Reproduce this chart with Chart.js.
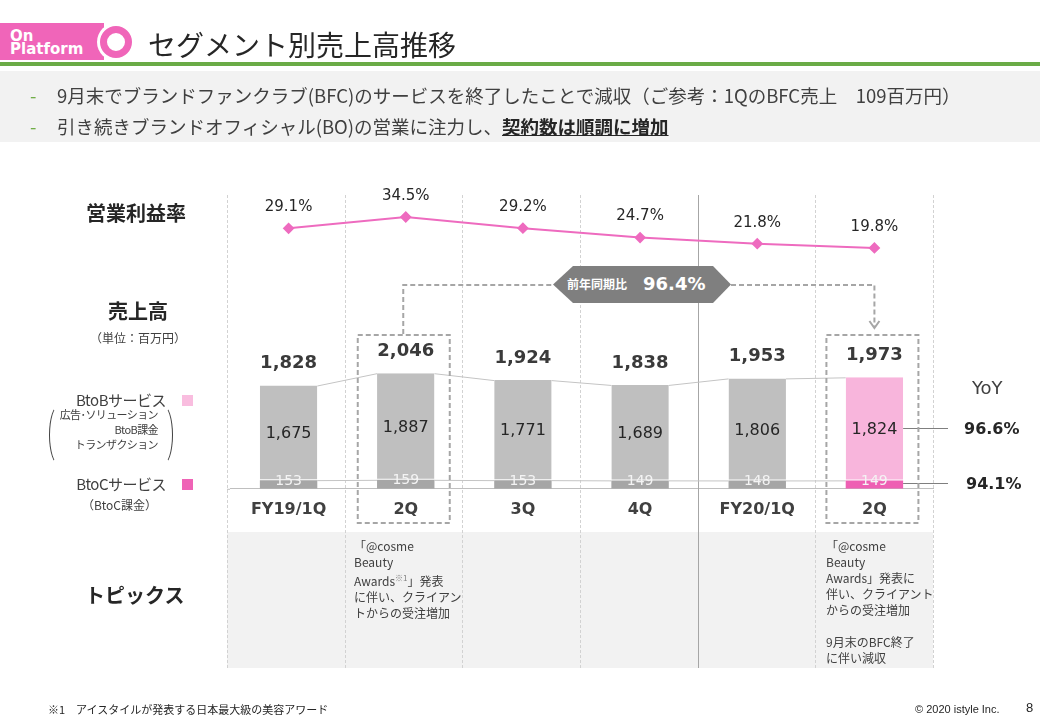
<!DOCTYPE html>
<html lang="ja">
<head>
<meta charset="utf-8">
<title>セグメント別売上高推移</title>
<script src="https://cdn.jsdelivr.net/npm/chart.js@4.4.1/dist/chart.umd.min.js"></script>
<style>
  html, body { margin: 0; padding: 0; background: #fff; }
  body { width: 1040px; height: 720px; position: relative; overflow: hidden;
         font-family: "Noto Sans CJK JP", sans-serif; color: #404040; }
  .abs { position: absolute; white-space: nowrap; z-index: 2; }
  .num { font-family: "DejaVu Sans", sans-serif; }
  #chart { position: absolute; left: 0; top: 0; z-index: 1; }

  /* header */
  #tag { position: absolute; left: 0; top: 23px; width: 104px; height: 37px; background: #f065b9; }
  #tag div { position: absolute; left: 10px; color: #fff; font: bold 15px/15px "DejaVu Sans", sans-serif; }
  #ring-out { position: absolute; left: 97px; top: 23px; width: 38px; height: 38px; border-radius: 50%; background: #fff; }
  #ring { position: absolute; left: 100px; top: 26px; width: 18px; height: 18px; border-radius: 50%;
          border: 7px solid #f065b9; background: #fff; }
  #title { left: 148px; top: 25px; font-size: 28px; line-height: 38px; color: #262626; }
  #green { position: absolute; left: 0; top: 62px; width: 1040px; height: 4px; background: #6aab46; }
  #band { position: absolute; left: 0; top: 71px; width: 1040px; height: 71px; background: #f2f2f2; }
  .bul { left: 30px; color: #70ad47; font-size: 18.5px; line-height: 24px; }
  .btx { left: 57px; font-size: 18.5px; line-height: 24px; color: #404040; }
  .btx b { text-decoration: underline; color: #262626; }

  /* left labels */
  .hd { font-weight: bold; font-size: 20px; line-height: 24px; color: #262626; }
  .sm { font-size: 12px; line-height: 16px; }
  .sq { position: absolute; width: 11px; height: 11px; z-index: 2; }
  .par { position: absolute; width: 18px; height: 58px; border-radius: 50%; border: 1px solid transparent; z-index: 2; }

  #topicbg { position: absolute; left: 227px; top: 532px; width: 706px; height: 136px; background: #f2f2f2; z-index: 0; }
  .topic { font-size: 12px; line-height: 16px; color: #404040; }
  .topic sup { font-size: 8px; color: #808080; vertical-align: 5px; }

  #yoylabel { position: absolute; left: 553px; top: 266px; width: 178px; height: 37px; background: #7f7f7f; z-index: 2;
              clip-path: polygon(0 50%, 20px 0, 160px 0, 178px 50%, 160px 100%, 20px 100%);
              color: #fff; font-weight: bold; }
</style>
</head>
<body>

<div id="tag"><div style="top:6px">On</div><div style="top:19px">Platform</div></div>
<div id="ring-out"></div>
<div id="ring"></div>
<div class="abs" id="title">セグメント別売上高推移</div>
<div id="green"></div>
<div id="band"></div>
<div class="abs bul" style="top:83px">-</div>
<div class="abs btx" style="top:83px">9月末でブランドファンクラブ(BFC)のサービスを終了したことで減収（ご参考：1QのBFC売上　109百万円）</div>
<div class="abs bul" style="top:114px">-</div>
<div class="abs btx" style="top:114px">引き続きブランドオフィシャル(BO)の営業に注力し、<b>契約数は順調に増加</b></div>

<div class="abs hd" style="left:86px;top:201px">営業利益率</div>
<div class="abs hd" style="left:108px;top:299px">売上高</div>
<div class="abs sm" style="left:90px;top:330px">（単位：百万円）</div>

<div class="abs" style="right:874px;top:391px;font-size:15px;line-height:18px;letter-spacing:-0.5px">BtoBサービス</div>
<div class="sq" style="left:182px;top:395px;background:#f9bddf"></div>
<div class="abs sm" style="right:882px;top:407px;text-align:right;line-height:15px;font-size:11px;letter-spacing:-0.6px">広告･ソリューション<br>BtoB課金<br>トランザクション</div>
<div class="par" style="left:49px;top:405px;border-left-color:#404040"></div>
<div class="par" style="left:153px;top:405px;border-right-color:#404040"></div>
<div class="abs" style="right:874px;top:475px;font-size:15px;line-height:18px;letter-spacing:-0.5px">BtoCサービス</div>
<div class="sq" style="left:182px;top:479px;background:#ef63b6"></div>
<div class="abs sm" style="left:82px;top:497px">（BtoC課金）</div>

<div id="topicbg"></div>
<div class="abs hd" style="left:85px;top:583px">トピックス</div>
<div class="abs topic" style="left:354px;top:538px">「@cosme<br>Beauty<br>Awards<sup>※1</sup>」発表<br>に伴い、クライアン<br>トからの受注増加</div>
<div class="abs topic" style="left:826px;top:538px">「@cosme<br>Beauty<br>Awards」発表に<br>伴い、クライアント<br>からの受注増加<br><br>9月末のBFC終了<br>に伴い減収</div>

<div id="yoylabel">
  <span class="abs" style="left:14px;top:10px;font-size:12px;line-height:16px">前年同期比</span>
  <span class="abs num" style="left:90px;top:7px;font-size:18px;line-height:22px">96.4%</span>
</div>

<div class="abs num" style="left:972px;top:377px;font-size:18px;line-height:22px;color:#404040">YoY</div>
<div class="abs num" style="left:964px;top:419px;font-size:16px;line-height:20px;font-weight:bold;color:#262626">96.6%</div>
<div class="abs num" style="left:966px;top:474px;font-size:16px;line-height:20px;font-weight:bold;color:#262626">94.1%</div>

<div class="abs" style="left:48px;top:701px;font-size:11px;line-height:16px;color:#262626">※1　アイスタイルが発表する日本最大級の美容アワード</div>
<div class="abs" style="left:915px;top:701px;font:11px/16px 'Liberation Sans',sans-serif;color:#262626">© 2020 istyle Inc.</div>
<div class="abs" style="left:1026px;top:700px;font:13px/16px 'Liberation Sans',sans-serif;color:#262626">8</div>

<canvas id="chart" width="1040" height="720"></canvas>

<script>
// --- DATA ---
const quarters = ['FY19/1Q', '2Q', '3Q', '4Q', 'FY20/1Q', '2Q'];
const btocSales = [153, 159, 153, 149, 148, 149];
const btobSales = [1675, 1887, 1771, 1689, 1806, 1824];
const totalSales = [1828, 2046, 1924, 1838, 1953, 1973];
const opMargin = [29.1, 34.5, 29.2, 24.7, 21.8, 19.8];

const compared = [1, 5]; // 前年同期比の対象 (FY19/2Q, FY20/2Q)
const LINE_PINK = '#ee6bbf';
const GRAY_DASH = '#a6a6a6';

Chart.defaults.font.family = "'DejaVu Sans', sans-serif";

const fmt = v => v.toLocaleString('en-US');
const lastIdx = quarters.length - 1;

// --- PLUGINS ---
// 列の区切り線と、棒同士を結ぶ線
const backdrop = {
  id: 'backdrop',
  beforeDatasetsDraw(chart) {
    const { ctx, chartArea } = chart;
    const left = chartArea.left - 3;
    const step = (chartArea.right - left) / quarters.length;

    ctx.save();
    for (let k = 0; k <= quarters.length; k++) {
      const x = Math.round(left + k * step) + 0.5;
      ctx.beginPath();
      if (k === 4) {
        ctx.setLineDash([]);
        ctx.strokeStyle = '#a6a6a6';
      } else {
        ctx.setLineDash([3, 2]);
        ctx.strokeStyle = '#d2d2d2';
      }
      ctx.lineWidth = 1;
      ctx.moveTo(x, chartArea.top);
      ctx.lineTo(x, 668);
      ctx.stroke();
    }

    // x軸の線（左端まで）
    ctx.setLineDash([]);
    ctx.strokeStyle = '#bfbfbf';
    ctx.beginPath();
    ctx.moveTo(left, chartArea.bottom + 0.5);
    ctx.lineTo(chartArea.left, chartArea.bottom + 0.5);
    ctx.stroke();

    // series lines
    ctx.strokeStyle = '#c4c4c4';
    [1, 2].forEach(di => {
      const bars = chart.getDatasetMeta(di).data;
      for (let i = 0; i < bars.length - 1; i++) {
        const a = bars[i], b = bars[i + 1];
        ctx.beginPath();
        ctx.moveTo(a.x + a.width / 2, a.y + 0.5);
        ctx.lineTo(b.x - b.width / 2, b.y + 0.5);
        ctx.stroke();
      }
    });
    ctx.restore();
  }
};

// 数値ラベル、破線の枠、矢印
const overlay = {
  id: 'overlay',
  afterDatasetsDraw(chart) {
    const { ctx } = chart;
    const line = chart.getDatasetMeta(0).data;
    const btoc = chart.getDatasetMeta(1).data;
    const btob = chart.getDatasetMeta(2).data;

    ctx.save();
    ctx.textAlign = 'center';
    ctx.textBaseline = 'middle';

    line.forEach((pt, i) => {
      ctx.font = "15px 'DejaVu Sans'";
      ctx.fillStyle = '#262626';
      ctx.fillText(opMargin[i].toFixed(1) + '%', pt.x, pt.y - 21);
    });

    btob.forEach((el, i) => {
      ctx.font = "16px 'DejaVu Sans'";
      ctx.fillStyle = '#262626';
      ctx.fillText(fmt(btobSales[i]), el.x, (el.y + el.base) / 2 + 1);
      ctx.font = "bold 18px 'DejaVu Sans'";
      ctx.fillStyle = '#3a3a3a';
      ctx.fillText(fmt(totalSales[i]), el.x, el.y - 22);
    });

    btoc.forEach((el, i) => {
      ctx.font = "14px 'DejaVu Sans'";
      ctx.fillStyle = '#f4f4f4';
      ctx.fillText(fmt(btocSales[i]), el.x, el.y + 1);
    });

    // YoY leader lines
    const lb = btob[lastIdx], lc = btoc[lastIdx];
    const yb = Math.round((lb.y + lb.base) / 2) - 0.5;
    const yc = Math.round(lc.y) + 3.5;
    ctx.strokeStyle = '#7f7f7f';
    ctx.lineWidth = 1;
    ctx.beginPath();
    ctx.moveTo(lb.x + lb.width / 2, yb);
    ctx.lineTo(948, yb);
    ctx.moveTo(lc.x + lc.width / 2, yc);
    ctx.lineTo(948, yc);
    ctx.stroke();

    // dashed boxes
    const xs = chart.scales.x;
    ctx.strokeStyle = GRAY_DASH;
    ctx.lineWidth = 2;
    ctx.setLineDash([5, 3]);
    compared.forEach(i => {
      const cx = xs.getPixelForValue(i);
      ctx.strokeRect(cx - 48, 335, 92, 188);
    });

    // connector to the label
    const c1 = xs.getPixelForValue(compared[0]) - 2.5;
    const c2 = xs.getPixelForValue(compared[1]);
    ctx.beginPath();
    ctx.moveTo(c1, 334);
    ctx.lineTo(c1, 285);
    ctx.lineTo(553, 285);
    ctx.moveTo(731, 285);
    ctx.lineTo(c2, 285);
    ctx.lineTo(c2, 327);
    ctx.stroke();
    ctx.setLineDash([]);
    ctx.beginPath();
    ctx.moveTo(c2 - 5, 321);
    ctx.lineTo(c2, 328);
    ctx.lineTo(c2 + 5, 321);
    ctx.stroke();
    ctx.restore();
  }
};

// --- CHART ---
const colorsFor = (normal, highlight) => quarters.map((_, i) => i === lastIdx ? highlight : normal);

new Chart(document.getElementById('chart').getContext('2d'), {
  data: {
    labels: quarters,
    datasets: [
      {
        type: 'line',
        label: '営業利益率',
        data: opMargin,
        yAxisID: 'y2',
        order: 0,
        borderColor: LINE_PINK,
        backgroundColor: LINE_PINK,
        borderWidth: 2,
        pointStyle: 'rectRot',
        pointRadius: 4.5,
        tension: 0
      },
      {
        type: 'bar',
        label: 'BtoCサービス',
        data: btocSales,
        yAxisID: 'y',
        stack: 'sales',
        order: 1,
        backgroundColor: colorsFor('#a6a6a6', '#ee5fb3'),
        barPercentage: 0.49,
        categoryPercentage: 1
      },
      {
        type: 'bar',
        label: 'BtoBサービス',
        data: btobSales,
        yAxisID: 'y',
        stack: 'sales',
        order: 1,
        backgroundColor: colorsFor('#bfbfbf', '#f8b5dc'),
        borderColor: '#ffffff',
        borderWidth: { bottom: 1, top: 0, left: 0, right: 0 },
        borderSkipped: false,
        barPercentage: 0.49,
        categoryPercentage: 1
      }
    ]
  },
  options: {
    responsive: false,
    animation: false,
    devicePixelRatio: 1,
    layout: { padding: { left: 230, right: 107, top: 195, bottom: 190 } },
    plugins: { legend: { display: false }, tooltip: { enabled: false } },
    scales: {
      x: {
        stacked: true,
        grid: { display: false, drawTicks: false },
        border: { color: '#bfbfbf' },
        ticks: {
          color: '#404040',
          font: { size: 16, weight: 'bold' },
          padding: 11,
          maxRotation: 0,
          autoSkip: false
        }
      },
      y: { stacked: true, display: false, min: 0, max: 5200 },
      y2: { display: false, min: -95, max: 45 }
    }
  },
  plugins: [backdrop, overlay]
});
</script>
</body>
</html>
